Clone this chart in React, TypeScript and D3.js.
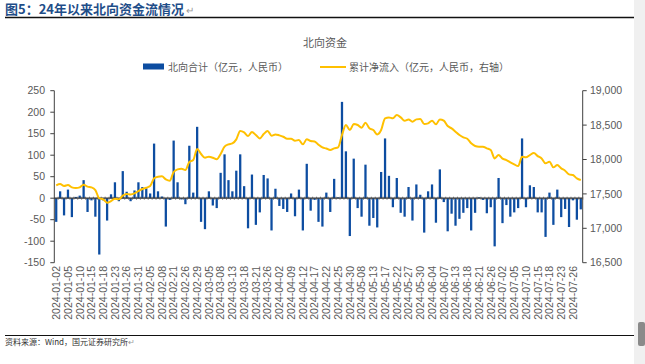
import React, { useEffect, useRef } from 'react';
import * as d3 from 'd3';

// Trading days (northbound), 2024
const dates: string[] = [
  '2024-01-02', '2024-01-03', '2024-01-04', '2024-01-05', '2024-01-08', '2024-01-09', '2024-01-10', '2024-01-11',
  '2024-01-12', '2024-01-15', '2024-01-16', '2024-01-17', '2024-01-18', '2024-01-19', '2024-01-22', '2024-01-23',
  '2024-01-24', '2024-01-25', '2024-01-26', '2024-01-29', '2024-01-30', '2024-01-31',
  '2024-02-01', '2024-02-02', '2024-02-05', '2024-02-06', '2024-02-07', '2024-02-08', '2024-02-19', '2024-02-20',
  '2024-02-21', '2024-02-22', '2024-02-23', '2024-02-26', '2024-02-27', '2024-02-28', '2024-02-29',
  '2024-03-01', '2024-03-04', '2024-03-05', '2024-03-06', '2024-03-07', '2024-03-08', '2024-03-11', '2024-03-12',
  '2024-03-13', '2024-03-14', '2024-03-15', '2024-03-18', '2024-03-19', '2024-03-20', '2024-03-21', '2024-03-22',
  '2024-03-25', '2024-03-26', '2024-03-27', '2024-03-28',
  '2024-04-02', '2024-04-03', '2024-04-08', '2024-04-09', '2024-04-10', '2024-04-11', '2024-04-12', '2024-04-15',
  '2024-04-16', '2024-04-17', '2024-04-18', '2024-04-19', '2024-04-22', '2024-04-23', '2024-04-24', '2024-04-25',
  '2024-04-26', '2024-04-29', '2024-04-30',
  '2024-05-06', '2024-05-07', '2024-05-08', '2024-05-09', '2024-05-10', '2024-05-13', '2024-05-14', '2024-05-16',
  '2024-05-17', '2024-05-20', '2024-05-21', '2024-05-22', '2024-05-23', '2024-05-24', '2024-05-27', '2024-05-28',
  '2024-05-29', '2024-05-30', '2024-05-31',
  '2024-06-03', '2024-06-04', '2024-06-05', '2024-06-06', '2024-06-07', '2024-06-11', '2024-06-12', '2024-06-13',
  '2024-06-14', '2024-06-17', '2024-06-18', '2024-06-19', '2024-06-20', '2024-06-21', '2024-06-24', '2024-06-25',
  '2024-06-26', '2024-06-27', '2024-06-28',
  '2024-07-02', '2024-07-03', '2024-07-04', '2024-07-05', '2024-07-08', '2024-07-09', '2024-07-10', '2024-07-11',
  '2024-07-12', '2024-07-15', '2024-07-16', '2024-07-17', '2024-07-18', '2024-07-19', '2024-07-22', '2024-07-23',
  '2024-07-24', '2024-07-25', '2024-07-26', '2024-07-29', '2024-07-30',
];

// 北向合计 (亿元)
const dailyFlow: number[] = [
  -55, 16, -40, 20, -44, 3, 6, 42, -32, -5, -43, -131, -5, -52, 9, 37, -7, 63, 15, -7, 18, 37,
  26, 23, 11, 127, 16, 4, -66, -4, 134, 37, -3, -14, 122, 13, 166,
  -55, -72, 16, -17, -23, 59, 102, 42, 16, 64, 102, 28, -70, 55, -62, -33, 54, 46, -75, 22,
  -18, -25, -32, 11, -42, 20, -75, 80, -29, -4, -55, -66, 13, -32, 45, 2, 224, 109, -88,
  92, -23, -43, 78, -64, -46, -68, 61, 139, 52, -21, 47, -34, -43, 26, -52, 32, 8, -80,
  16, 32, -57, 67, -9, -77, -36, -64, -48, -34, -23, -75, -34, 2, -4, -35, -21, -112, 47,
  -58, -16, -43, -33, -23, 139, -21, 30, 26, -33, -33, -90, 13, -62, 20, -44, -25, -67, -5, -50, -26,
];

// 累计净流入 (亿元, 右轴)
const cumFlow: number[] = [
  17624, 17643, 17614, 17629, 17595, 17585, 17595, 17634, 17605, 17595, 17556, 17435, 17421, 17372, 17396, 17430,
  17421, 17474, 17498, 17493, 17508, 17542, 17571, 17590, 17614, 17726, 17750, 17755, 17711, 17692, 17818, 17857,
  17866, 17847, 17963, 17992, 18152, 18080, 18026, 18041, 18026, 18002, 18080, 18186, 18220, 18234, 18293, 18414,
  18394, 18341, 18399, 18356, 18307, 18370, 18414, 18346, 18365, 18351, 18331, 18302, 18302, 18273, 18283, 18220,
  18293, 18268, 18262, 18215, 18175, 18160, 18138, 18162, 18176, 18356, 18501, 18428, 18515, 18501, 18462, 18535,
  18453, 18428, 18365, 18428, 18598, 18612, 18598, 18646, 18612, 18564, 18583, 18549, 18583, 18588, 18515, 18525,
  18564, 18511, 18583, 18564, 18486, 18453, 18404, 18356, 18322, 18302, 18235, 18196, 18186, 18186, 18162, 18138,
  18016, 18065, 18012, 17992, 17958, 17929, 17905, 18041, 18031, 18065, 18094, 18050, 18016, 17944, 17968, 17886,
  17920, 17871, 17837, 17784, 17774, 17726, 17702,
];

const leftTicks: number[] = [-150, -100, -50, 0, 50, 100, 150, 200, 250];
const rightTicks: number[] = [16500, 17000, 17500, 18000, 18500, 19000];

const App = () => {
  const svgRef = useRef<SVGSVGElement | null>(null);

  useEffect(() => {
    if (!svgRef.current) return;
    const width = 645;
    const height = 364;
    const svg = d3.select(svgRef.current);
    svg.attr('width', width).attr('height', height).attr('viewBox', `0 0 ${width} ${height}`);
    svg.selectAll('*').remove();

    const cjk = '"Noto Sans CJK SC", "Noto Sans", sans-serif';
    const latin = '"Liberation Sans", Arial, sans-serif';
    const textGrey = '#595959';

    // plot area
    const left = 54.3, right = 582.7, top = 90.7, bottom = 262.7;

    const x = d3.scaleBand<string>().domain(dates).range([left, right]).paddingInner(0.42).paddingOuter(0.2);
    const yL = d3.scaleLinear().domain([-150, 250]).range([bottom, top]);
    const yR = d3.scaleLinear().domain([16500, 19000]).range([bottom, top]);

    svg.append('rect').attr('width', width).attr('height', height).attr('fill', '#ffffff');

    // page scrollbar strip on the right
    svg.append('rect').attr('x', 634).attr('y', 0).attr('width', 11).attr('height', height).attr('fill', '#f0f0f0');
    svg.append('rect').attr('x', 638).attr('y', 322).attr('width', 7).attr('height', 24).attr('rx', 2).attr('fill', '#8a8a8a');

    // figure title
    const title = svg.append('text')
      .attr('x', 5).attr('y', 14)
      .attr('fill', '#1F4E89')
      .style('font-family', cjk)
      .style('font-size', '13px')
      .style('font-weight', 'bold')
      .text('图5：24年以来北向资金流情况');
    title.append('tspan').attr('fill', '#999').style('font-weight', 'normal').style('font-size', '10px').text(' ↵');

    svg.append('line').attr('x1', 5).attr('x2', 634).attr('y1', 17.5).attr('y2', 17.5).attr('stroke', '#111').attr('stroke-width', 1.5);

    // chart title
    svg.append('text')
      .attr('x', 325).attr('y', 47)
      .attr('text-anchor', 'middle')
      .attr('fill', textGrey)
      .style('font-family', cjk)
      .style('font-size', '11px')
      .text('北向资金');

    // legend
    svg.append('rect').attr('x', 143).attr('y', 63.5).attr('width', 21).attr('height', 6).attr('fill', '#0D4DA1');
    svg.append('text').attr('x', 168).attr('y', 70.5).attr('fill', textGrey)
      .style('font-family', cjk).style('font-size', '10px').text('北向合计（亿元，人民币）');
    svg.append('line').attr('x1', 320).attr('x2', 346).attr('y1', 67).attr('y2', 67).attr('stroke', '#FFC000').attr('stroke-width', 2);
    svg.append('text').attr('x', 349).attr('y', 70.5).attr('fill', textGrey)
      .style('font-family', cjk).style('font-size', '10px').text('累计净流入（亿元，人民币，右轴）');

    // left axis
    svg.append('line').attr('x1', left).attr('x2', left).attr('y1', top).attr('y2', bottom).attr('stroke', '#404040').attr('stroke-width', 1);
    leftTicks.forEach(t => {
      svg.append('line').attr('x1', left - 4).attr('x2', left).attr('y1', yL(t)).attr('y2', yL(t)).attr('stroke', '#404040');
      svg.append('text')
        .attr('x', 45).attr('y', yL(t)).attr('dy', '0.35em')
        .attr('text-anchor', 'end')
        .attr('fill', textGrey)
        .style('font-family', latin)
        .style('font-size', '10.5px')
        .text(t < 0 ? `-${Math.abs(t)}` : `${t}`);
    });

    // right axis
    svg.append('line').attr('x1', right).attr('x2', right).attr('y1', top).attr('y2', bottom).attr('stroke', '#404040').attr('stroke-width', 1);
    rightTicks.forEach(t => {
      svg.append('line').attr('x1', right).attr('x2', right + 4).attr('y1', yR(t)).attr('y2', yR(t)).attr('stroke', '#404040');
      svg.append('text')
        .attr('x', 590).attr('y', yR(t)).attr('dy', '0.35em')
        .attr('fill', textGrey)
        .style('font-family', latin)
        .style('font-size', '10.5px')
        .text(d3.format(',')(t));
    });

    // bars
    svg.append('g')
      .selectAll('rect')
      .data(dates)
      .enter().append('rect')
      .attr('x', d => x(d)!)
      .attr('width', x.bandwidth())
      .attr('y', (d, i) => yL(Math.max(0, dailyFlow[i])))
      .attr('height', (d, i) => Math.abs(yL(dailyFlow[i]) - yL(0)))
      .attr('fill', '#0D4DA1');

    // zero baseline with category ticks
    svg.append('line').attr('x1', left).attr('x2', right).attr('y1', yL(0)).attr('y2', yL(0)).attr('stroke', '#333').attr('stroke-width', 1.3);
    const step = x.step();
    dates.forEach(d => {
      const bx = x(d)! + x.bandwidth() / 2 + step / 2;
      svg.append('line').attr('x1', bx).attr('x2', bx).attr('y1', yL(0) - 1.5).attr('y2', yL(0) + 1.5).attr('stroke', '#555').attr('stroke-width', 0.8);
    });

    // cumulative line
    const line = d3.line<number>()
      .x((v, i) => x(dates[i])! + x.bandwidth() / 2)
      .y(v => yR(v))
      .curve(d3.curveMonotoneX);
    svg.append('path')
      .datum(cumFlow)
      .attr('d', line)
      .attr('fill', 'none')
      .attr('stroke', '#FFC000')
      .attr('stroke-width', 2);

    // x labels (every 3rd trading day)
    dates.forEach((d, i) => {
      if (i % 3 !== 0) return;
      const cx = x(d)! + x.bandwidth() / 2;
      svg.append('text')
        .attr('transform', `translate(${cx + 3.8},${266}) rotate(-90)`)
        .attr('text-anchor', 'end')
        .attr('fill', textGrey)
        .style('font-family', latin)
        .style('font-size', '10.5px')
        .text(d);
    });

    // footer
    svg.append('line').attr('x1', 5).attr('x2', 634).attr('y1', 335.5).attr('y2', 335.5).attr('stroke', '#111').attr('stroke-width', 1.2);
    const src = svg.append('text')
      .attr('x', 5).attr('y', 345)
      .attr('fill', '#333')
      .style('font-family', cjk)
      .style('font-size', '8px')
      .text('资料来源：Wind，国元证券研究所');
    src.append('tspan').attr('fill', '#999').text('↵');
  }, []);

  return (
    <div style={{ position: 'fixed', left: 0, top: 0 }}>
      <svg ref={svgRef} style={{ display: 'block' }}></svg>
    </div>
  );
};

export default App;
